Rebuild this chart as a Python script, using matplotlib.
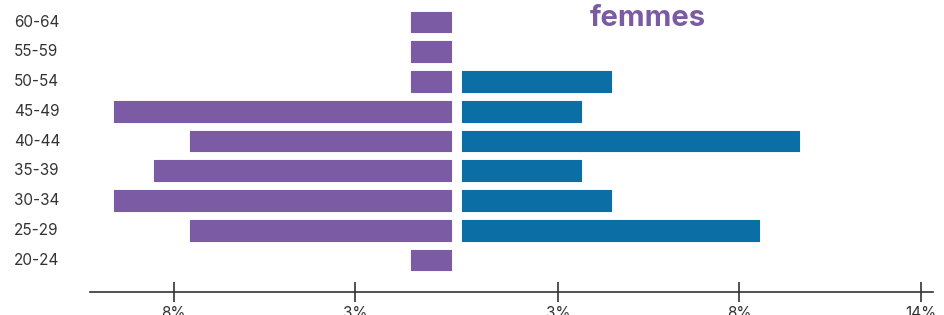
import matplotlib
matplotlib.use('Agg')
import matplotlib.pyplot as plt
import matplotlib.transforms as mtransforms

# Age groups, bottom to top
ageGroups = ['20-24', '25-29', '30-34', '35-39', '40-44', '45-49', '50-54', '55-59', '60-64']

# Share per age group (%)
femmesVals = [1.2, 7.9, 10.2, 9.0, 7.9, 10.2, 1.2, 1.2, 1.2]
hommesVals = [0.0, 9.0, 4.5, 3.6, 10.2, 3.6, 4.5, 0.0, 0.0]

# Tick positions (%) and their labels
tickVals = [2.9, 8.4, 13.9]
tickLabels = ['3%', '8%', '14%']

purple = '#7b5ba4'
blue = '#0b6ea5'
textCol = '#333333'
gap = 0.17  # half of the gap between the two sides

plt.rcParams['font.family'] = ['Inter', 'DejaVu Sans']

fig = plt.figure(figsize=(9.45, 3.15), dpi=100)
ax = fig.add_axes([90 / 945, 23 / 315, 843 / 945, 292 / 315])

ypos = list(range(len(ageGroups)))

# Left side (femmes) grows to the left, right side to the right
ax.barh(ypos, [-v for v in femmesVals], left=-gap, height=0.7,
        color=purple, edgecolor=purple, linewidth=0.8, joinstyle='round')
for y, v in zip(ypos, hommesVals):
    if v > 0:
        ax.barh(y, v, left=gap, height=0.7, color=blue, edgecolor=blue,
                linewidth=0.8, joinstyle='round')

ax.set_xlim(-11.106, 14.44)
ax.set_ylim(-1.075, 8.74)

# Ticks on both sides of the middle
xt = [-(gap + t) for t in tickVals[:2]][::-1] + [gap + t for t in tickVals]
xl = tickLabels[:2][::-1] + tickLabels
ax.set_xticks(xt)
ax.set_xticklabels(xl, fontsize=11, color=textCol)
ax.tick_params(axis='x', direction='inout', length=14, width=1.2, color='#333333', pad=3)

ax.set_yticks([])
trans = mtransforms.blended_transform_factory(fig.transFigure, ax.transData)
for y, lab in zip(ypos, ageGroups):
    ax.text(14 / 945, y, lab, transform=trans,
            ha='left', va='center', fontsize=11, color=textCol)

for s in ['top', 'right', 'left']:
    ax.spines[s].set_visible(False)
ax.spines['bottom'].set_color('#333333')
ax.spines['bottom'].set_linewidth(1.2)

fig.text(648 / 945, 1 - 19 / 315, 'femmes', ha='center', va='center',
         fontsize=21, fontweight='bold', color=purple)

fig.savefig('out.png', dpi=100)
